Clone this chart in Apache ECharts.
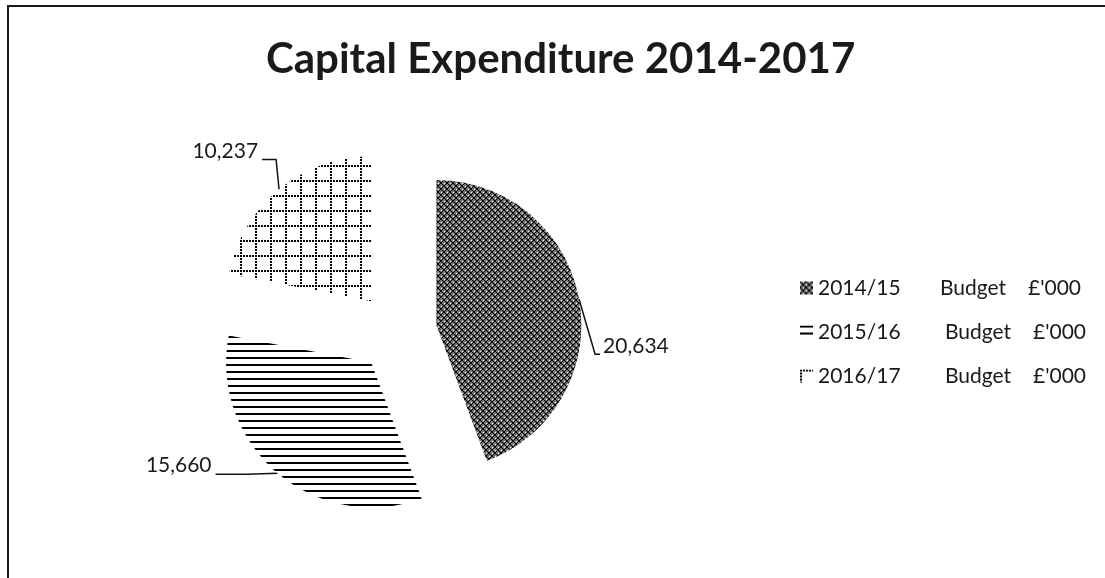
<!DOCTYPE html>
<html>
<head>
<meta charset="utf-8">
<title>Capital Expenditure 2014-2017</title>
<script src="https://cdn.jsdelivr.net/npm/echarts@6/dist/echarts.min.js"></script>
<style>
  html, body { margin: 0; padding: 0; background: #ffffff; }
  #chart { width: 1105px; height: 578px; }
</style>
</head>
<body>
<div id="chart"></div>
<script>
// Budget lines and their totals (£'000)
const categories = ['2014/15 Budget £\'000', '2015/16 Budget £\'000', '2016/17 Budget £\'000'];
const budgetValues = [20634, 15660, 10237];
const titleText = 'Capital Expenditure 2014-2017';

// Small canvas tiles used as hatched fills
function makeTile(w, h, draw) {
  const c = document.createElement('canvas');
  c.width = w; c.height = h;
  draw(c.getContext('2d'));
  return c;
}

// dense diagonal cross-hatch
const crossTile = makeTile(6, 6, function (ctx) {
  ctx.fillStyle = '#767676';
  ctx.fillRect(0, 0, 6, 6);
  ctx.fillStyle = '#000000';
  for (let i = 0; i < 6; i++) {
    ctx.fillRect(i, i, 1, 1);
    ctx.fillRect(5 - i, i, 1, 1);
  }
  ctx.fillStyle = '#ffffff';
  ctx.fillRect(3, 0, 1, 1);
  ctx.fillRect(0, 3, 1, 1);
});

// horizontal lines
const lineTile = makeTile(10, 7, function (ctx) {
  ctx.fillStyle = '#ffffff';
  ctx.fillRect(0, 0, 10, 7);
  ctx.fillStyle = '#000000';
  ctx.fillRect(0, 0, 10, 2);
});

// dotted grid
const gridTile = makeTile(15, 15, function (ctx) {
  ctx.fillStyle = '#ffffff';
  ctx.fillRect(0, 0, 15, 15);
  ctx.fillStyle = '#000000';
  for (let x = 0; x < 15; x += 3) ctx.fillRect(x, 0, 2, 2);
  for (let y = 0; y < 15; y += 3) ctx.fillRect(0, y, 2, 2);
});

const fills = [crossTile, lineTile, gridTile].map(function (tile) {
  return { image: tile, repeat: 'repeat' };
});

// leader line shapes, relative to where the line leaves the slice
const leaders = [
  { elbow: [16, 55], end: [21, 55], align: 'left', gap: 3, lift: -8 },
  { elbow: [-30, 1], end: [-62, 1], align: 'right', gap: -4, lift: -9 },
  { elbow: [-3, -30], end: [-17, -30], align: 'right', gap: -4, lift: -8 }
];

// legend columns: width of the year column for each row
const yearColumnWidths = [122, 127, 127];

const fontFamily = 'Lato, "Open Sans", sans-serif';
const pieCenter = [397, 332];
const pieRadius = 145;
const explode = 40;

// Exploded pie: one pie series per slice, each pushed out along its own bisector
const total = budgetValues.reduce(function (a, b) { return a + b; }, 0);
let cumulative = 0;
const pieSeries = budgetValues.map(function (value, k) {
  const mid = (90 - 360 * (cumulative + value / 2) / total) * Math.PI / 180;
  cumulative += value;
  return {
    type: 'pie',
    name: categories[k],
    center: [pieCenter[0] + explode * Math.cos(mid), pieCenter[1] - explode * Math.sin(mid)],
    radius: pieRadius,
    startAngle: 90,
    clockwise: true,
    avoidLabelOverlap: false,
    emphasis: { disabled: true },
    silent: true,
    itemStyle: { borderWidth: 0 },
    data: categories.map(function (name, i) {
      const own = i === k;
      return {
        name: name,
        value: budgetValues[i],
        itemStyle: { color: own ? fills[i] : 'rgba(0,0,0,0)' },
        label: { show: own },
        labelLine: { show: own }
      };
    }),
    label: {
      position: 'outside',
      formatter: function (p) { return p.value.toLocaleString('en-GB'); },
      fontFamily: fontFamily,
      fontSize: 21,
      color: '#1a1a1a'
    },
    labelLine: {
      length: 12,
      length2: 10,
      lineStyle: { color: '#111111', width: 1.5 }
    },
    labelLayout: function (params) {
      const pts = params.labelLinePoints;
      if (!pts) return {};
      const s = pts[0];
      const g = leaders[params.dataIndex];
      const elbow = [s[0] + g.elbow[0], s[1] + g.elbow[1]];
      const end = [s[0] + g.end[0], s[1] + g.end[1]];
      return {
        x: end[0] + g.gap,
        y: end[1] + g.lift,
        align: g.align,
        verticalAlign: 'middle',
        labelLinePoints: [s, elbow, end]
      };
    }
  };
});

const legendRich = {
  b: { fontFamily: fontFamily, fontSize: 21, width: 88, color: '#1a1a1a' },
  c: { fontFamily: fontFamily, fontSize: 21, color: '#1a1a1a' }
};
yearColumnWidths.forEach(function (w, i) {
  legendRich['y' + i] = { fontFamily: fontFamily, fontSize: 21, width: w, color: '#1a1a1a' };
});

const chart = echarts.init(document.getElementById('chart'), null, { renderer: 'canvas' });

chart.setOption({
  animation: false,
  backgroundColor: '#ffffff',
  title: {
    text: titleText,
    left: 266,
    top: 38,
    padding: 0,
    textStyle: {
      fontFamily: fontFamily,
      fontWeight: 'bold',
      fontSize: 42,
      color: '#1a1a1a'
    }
  },
  graphic: [{
    type: 'rect',
    shape: { x: 8, y: 6, width: 1200, height: 700 },
    style: { fill: 'none', stroke: '#1a1a1a', lineWidth: 2 },
    silent: true
  }],
  legend: {
    orient: 'vertical',
    left: 795,
    top: 271,
    itemWidth: 13,
    itemHeight: 13,
    itemGap: 20,
    icon: 'rect',
    selectedMode: false,
    data: categories.map(function (name, i) {
      return { name: name, itemStyle: { color: fills[i] } };
    }),
    formatter: function (name) {
      const i = categories.indexOf(name);
      const parts = name.split(' ');
      return '{y' + i + '|' + parts[0] + '}{b|' + parts[1] + '}{c|' + parts[2] + '}';
    },
    textStyle: {
      fontFamily: fontFamily,
      fontSize: 21,
      color: '#1a1a1a',
      lineHeight: 24,
      rich: legendRich
    }
  },
  series: pieSeries
});
</script>
</body>
</html>
